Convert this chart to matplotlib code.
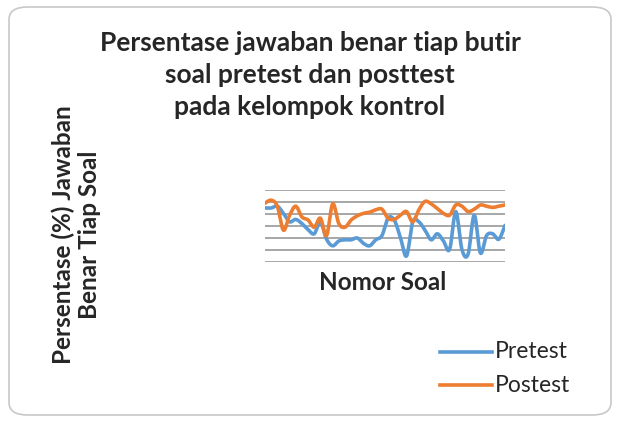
import matplotlib.pyplot as plt
import numpy as np
from matplotlib.patches import FancyBboxPatch
from matplotlib.lines import Line2D

# persentase jawaban benar tiap butir soal (kelompok kontrol)
nomor_soal = list(range(1, 41))
pretest = [90, 90, 93, 81, 67, 71, 64, 54, 47, 67,
           38, 27, 35, 37, 37, 40, 31, 27, 37, 44,
           73, 70, 41, 10, 67, 67, 53, 37, 47, 35,
           21, 84, 21, 13, 78, 15, 44, 47, 38, 61]
postest = [98, 103, 93, 53, 78, 93, 75, 70, 58, 73,
           44, 97, 64, 58, 70, 77, 81, 83, 87, 88,
           73, 71, 78, 84, 67, 87, 101, 97, 89, 81,
           78, 95, 93, 84, 88, 95, 93, 91, 93, 95]


def halus(x, y, n=12):
    # garis halus seperti "smoothed line" di Excel (Catmull-Rom)
    x = np.asarray(x, float)
    y = np.asarray(y, float)
    p = np.column_stack([x, y])
    p = np.vstack([p[0], p, p[-1]])
    hasil = []
    for i in range(1, len(p) - 2):
        p0, p1, p2, p3 = p[i - 1], p[i], p[i + 1], p[i + 2]
        t = np.linspace(0, 1, n, endpoint=False)[:, None]
        c = 0.5 * ((2 * p1) + (-p0 + p2) * t + (2 * p0 - 5 * p1 + 4 * p2 - p3) * t ** 2
                   + (-p0 + 3 * p1 - 3 * p2 + p3) * t ** 3)
        hasil.append(c)
    hasil.append(p[-2][None, :])
    hasil = np.vstack(hasil)
    return hasil[:, 0], hasil[:, 1]


plt.rcParams['font.family'] = ['Lato', 'DejaVu Sans']

fig = plt.figure(figsize=(6.18, 4.21), dpi=100)
fig.patch.set_facecolor('white')

kotak = FancyBboxPatch((9 / 618, 6 / 421), 602 / 618, 408 / 421,
                       boxstyle="round,pad=0,rounding_size=0.03",
                       transform=fig.transFigure, facecolor='white',
                       edgecolor='#c8c8c8', linewidth=1.2, zorder=-10)
fig.patches.append(kotak)

ax = fig.add_axes([265 / 618, 1 - 262 / 421, 240 / 618, 72 / 421])
ax.patch.set_alpha(0)
for s in ax.spines.values():
    s.set_visible(False)
ax.set_ylim(0, 120)
ax.set_yticks(np.arange(0, 121, 20))
ax.set_xlim(1, 40)
ax.set_xticks([])
ax.tick_params(left=False, labelleft=False)
ax.grid(axis='y', color='#a0a0a0', linewidth=1.3)
ax.set_axisbelow(True)

xb, yb = halus(nomor_soal, pretest)
xp, yp = halus(nomor_soal, postest)
ax.plot(xb, yb, color='#5B9BD5', linewidth=2.6, solid_capstyle='round')
ax.plot(xp, yp, color='#ED7D31', linewidth=2.6, solid_capstyle='round')

fig.text(310 / 618, 1 - 75 / 421,
         "Persentase jawaban benar tiap butir\nsoal pretest dan posttest\npada kelompok kontrol",
         ha='center', va='center', fontsize=19, fontweight='bold',
         color='#262626', linespacing=1.42)

fig.text(383 / 618, 1 - 282 / 421, "Nomor Soal", ha='center', va='center',
         fontsize=17.5, fontweight='bold', color='#262626')

fig.text(76 / 618, 1 - 235 / 421, "Persentase (%) Jawaban\nBenar Tiap Soal",
         ha='center', va='center', rotation=90, fontsize=17.5,
         fontweight='bold', color='#262626', linespacing=1.15)

for yy, warna, nama in [(352, '#5B9BD5', 'Pretest'), (385, '#ED7D31', 'Postest')]:
    fig.lines.append(Line2D([440 / 618, 492 / 618], [1 - yy / 421, 1 - yy / 421],
                            transform=fig.transFigure, color=warna, linewidth=2.6))
    fig.text(495 / 618, 1 - yy / 421, nama, ha='left', va='center',
             fontsize=16.5, color='#262626')

fig.savefig('out.png', dpi=100)
